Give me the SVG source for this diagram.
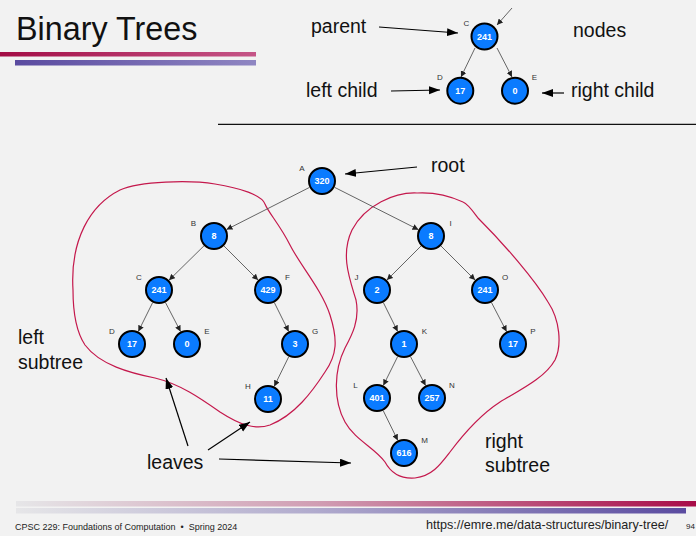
<svg xmlns="http://www.w3.org/2000/svg" width="696" height="536" viewBox="0 0 696 536">
  <defs>
    <linearGradient id="barRed" x1="0" y1="0" x2="1" y2="0">
      <stop offset="0" stop-color="#a30c45"/>
      <stop offset="1" stop-color="#c55587"/>
    </linearGradient>
    <linearGradient id="barPurple" x1="0" y1="0" x2="1" y2="0">
      <stop offset="0" stop-color="#5a4ba0"/>
      <stop offset="1" stop-color="#8f86c2"/>
    </linearGradient>
    <linearGradient id="footRed" x1="0" y1="0" x2="1" y2="0">
      <stop offset="0" stop-color="#e6e6e8"/>
      <stop offset="0.45" stop-color="#d09cb2"/>
      <stop offset="1" stop-color="#a80c48"/>
    </linearGradient>
    <linearGradient id="footPurple" x1="0" y1="0" x2="1" y2="0">
      <stop offset="0" stop-color="#e6e6e8"/>
      <stop offset="0.45" stop-color="#b0aacd"/>
      <stop offset="1" stop-color="#5a4ba0"/>
    </linearGradient>
    <marker id="edgeHead" markerUnits="userSpaceOnUse" markerWidth="7" markerHeight="6" refX="6" refY="3" orient="auto">
      <path d="M0,0 L6,3 L0,6 Z" fill="#222"/>
    </marker>
    <marker id="noteHead" markerUnits="userSpaceOnUse" markerWidth="12" markerHeight="9" refX="11" refY="4" orient="auto">
      <path d="M0,0 L11,4 L0,8 Z" fill="#000"/>
    </marker>
  </defs>
  <style>
    .bg { fill: #f2f2f2; }
    .node circle { fill: #0a7bff; stroke: #000; stroke-width: 2; }
    .node .val { font-family: "Liberation Sans", Arial, sans-serif; font-size: 9px; font-weight: bold; fill: #fff; text-anchor: middle; }
    .node .tag { font-family: "Liberation Sans", Arial, sans-serif; font-size: 8px; fill: #333; text-anchor: middle; }
    .edge { stroke: #555; stroke-width: 0.9; fill: none; marker-end: url(#edgeHead); }
    .note { stroke: #000; stroke-width: 1.2; fill: none; marker-end: url(#noteHead); }
    .blob { fill: none; stroke: #c4184c; stroke-width: 1.2; }
    .label { font-family: "Liberation Sans", Arial, sans-serif; font-size: 19.5px; fill: #111; }
    .title { font-family: "Liberation Sans", Arial, sans-serif; font-size: 32.3px; fill: #111; }
    .foot { font-family: "Liberation Sans", Arial, sans-serif; fill: #222; }
  </style>

  <rect class="bg" x="0" y="0" width="696" height="536"/>

  <!-- header -->
  <text class="title" x="16" y="39.5">Binary Trees</text>
  <rect x="0" y="52" width="256" height="4.5" fill="url(#barRed)"/>
  <rect x="15" y="60" width="241" height="5.5" fill="url(#barPurple)"/>
  <line x1="218" y1="124.3" x2="696" y2="124.3" stroke="#111" stroke-width="1.3"/>

  <!-- subtree outlines -->
  <g id="outlines">
    <path class="blob" d="M 73,290 C 70,240 90,205 120,190 C 140,181 190,180 215,184 C 240,188 262,195 265,204 C 268,212 280,225 290,245 C 300,265 322,290 330,315 C 338,340 337,355 325,372 C 312,392 295,415 270,425 C 255,430 240,425 220,412 C 200,398 180,384 155,378 C 130,373 100,365 85,345 C 75,330 73,310 73,290 Z"/>
    <path class="blob" d="M 417,193 C 395,192 365,205 352,230 C 340,255 350,280 356,300 C 360,320 352,335 345,348 C 334,370 333,400 345,422 C 355,440 375,448 385,462 C 392,475 402,479 415,478 C 432,476 440,465 450,452 C 465,432 480,415 500,402 C 520,390 545,378 555,360 C 562,345 560,320 548,302 C 535,280 505,245 478,218 C 472,210 468,204 463,202 C 450,196 435,192 417,193 Z"/>
  </g>

  <!-- connectors -->
  <g id="connectors">
    <line class="edge" x1="512" y1="8" x2="497" y2="25"/>
    <line class="edge" x1="475" y1="48" x2="461" y2="77"/>
    <line class="edge" x1="497" y1="48" x2="512" y2="77"/>

    <line class="edge" x1="309.5" y1="187.4" x2="226.5" y2="229.6"/>
    <line class="edge" x1="334.5" y1="187.3" x2="418.5" y2="229.7"/>
    <line class="edge" x1="204" y1="245.8" x2="169" y2="280.2"/>
    <line class="edge" x1="223.9" y1="245.9" x2="258.1" y2="280.1"/>
    <line class="edge" x1="421.1" y1="245.9" x2="386.9" y2="280.1"/>
    <line class="edge" x1="440.9" y1="245.9" x2="475.1" y2="280.1"/>
    <line class="edge" x1="152.7" y1="302.5" x2="138.3" y2="331.5"/>
    <line class="edge" x1="165.4" y1="302.4" x2="180.6" y2="331.6"/>
    <line class="edge" x1="274.3" y1="302.5" x2="288.7" y2="331.5"/>
    <line class="edge" x1="383.3" y1="302.5" x2="397.7" y2="331.5"/>
    <line class="edge" x1="491.4" y1="302.4" x2="506.6" y2="331.6"/>
    <line class="edge" x1="288.8" y1="356.6" x2="274.2" y2="386.4"/>
    <line class="edge" x1="397.7" y1="356.5" x2="383.3" y2="385.5"/>
    <line class="edge" x1="410.4" y1="356.4" x2="425.6" y2="385.6"/>
    <line class="edge" x1="383.2" y1="410.6" x2="397.8" y2="440.4"/>

    <line class="note" x1="379" y1="27" x2="458" y2="33"/>
    <line class="note" x1="391" y1="91" x2="440" y2="90"/>
    <line class="note" x1="564" y1="93" x2="542" y2="93"/>
    <line class="note" x1="417" y1="167" x2="345" y2="174"/>
    <line class="note" x1="188" y1="446" x2="166" y2="378"/>
    <line class="note" x1="208" y1="450" x2="250" y2="422"/>
    <line class="note" x1="219" y1="459" x2="351" y2="463"/>
  </g>

  <!-- example nodes -->
  <g id="ex-C" class="node"><circle cx="484.5" cy="36.5" r="13"/><text class="val" x="484.5" y="39.7">241</text><text class="tag" x="466.5" y="26">C</text></g>
  <g id="ex-D" class="node"><circle cx="460.3" cy="90.7" r="13"/><text class="val" x="460.3" y="93.9">17</text><text class="tag" x="440" y="80">D</text></g>
  <g id="ex-E" class="node"><circle cx="515" cy="90.7" r="13"/><text class="val" x="515" y="93.9">0</text><text class="tag" x="534.5" y="80">E</text></g>

  <!-- main tree nodes -->
  <g id="node-A" class="node"><circle cx="322" cy="181" r="13"/><text class="val" x="322" y="184.2">320</text><text class="tag" x="302" y="171">A</text></g>
  <g id="node-B" class="node"><circle cx="214" cy="236" r="13"/><text class="val" x="214" y="239.2">8</text><text class="tag" x="193.5" y="225.5">B</text></g>
  <g id="node-I" class="node"><circle cx="431" cy="236" r="13"/><text class="val" x="431" y="239.2">8</text><text class="tag" x="450.5" y="225.5">I</text></g>
  <g id="node-C" class="node"><circle cx="159" cy="290" r="13"/><text class="val" x="159" y="293.2">241</text><text class="tag" x="139" y="279.5">C</text></g>
  <g id="node-F" class="node"><circle cx="268" cy="290" r="13"/><text class="val" x="268" y="293.2">429</text><text class="tag" x="287.5" y="279.5">F</text></g>
  <g id="node-J" class="node"><circle cx="377" cy="290" r="13"/><text class="val" x="377" y="293.2">2</text><text class="tag" x="356.5" y="279.5">J</text></g>
  <g id="node-O" class="node"><circle cx="485" cy="290" r="13"/><text class="val" x="485" y="293.2">241</text><text class="tag" x="505" y="279.5">O</text></g>
  <g id="node-D" class="node"><circle cx="132" cy="344" r="13"/><text class="val" x="132" y="347.2">17</text><text class="tag" x="112" y="333.5">D</text></g>
  <g id="node-E" class="node"><circle cx="187" cy="344" r="13"/><text class="val" x="187" y="347.2">0</text><text class="tag" x="207" y="333.5">E</text></g>
  <g id="node-G" class="node"><circle cx="295" cy="344" r="13"/><text class="val" x="295" y="347.2">3</text><text class="tag" x="315" y="333.5">G</text></g>
  <g id="node-K" class="node"><circle cx="404" cy="344" r="13"/><text class="val" x="404" y="347.2">1</text><text class="tag" x="424.5" y="333.5">K</text></g>
  <g id="node-P" class="node"><circle cx="513" cy="344" r="13"/><text class="val" x="513" y="347.2">17</text><text class="tag" x="533" y="333.5">P</text></g>
  <g id="node-H" class="node"><circle cx="268" cy="399" r="13"/><text class="val" x="268" y="402.2">11</text><text class="tag" x="248" y="388.5">H</text></g>
  <g id="node-L" class="node"><circle cx="377" cy="398" r="13"/><text class="val" x="377" y="401.2">401</text><text class="tag" x="355.5" y="388">L</text></g>
  <g id="node-N" class="node"><circle cx="432" cy="398" r="13"/><text class="val" x="432" y="401.2">257</text><text class="tag" x="452" y="388">N</text></g>
  <g id="node-M" class="node"><circle cx="404" cy="453" r="13"/><text class="val" x="404" y="456.2">616</text><text class="tag" x="424.5" y="442.5">M</text></g>

  <!-- annotation labels -->
  <text class="label" x="311" y="33">parent</text>
  <text class="label" x="573" y="37">nodes</text>
  <text class="label" x="306" y="97">left child</text>
  <text class="label" x="571" y="97">right child</text>
  <text class="label" x="431" y="172">root</text>
  <text class="label" x="18" y="344">left</text>
  <text class="label" x="18" y="369">subtree</text>
  <text class="label" x="147" y="469">leaves</text>
  <text class="label" x="485" y="448">right</text>
  <text class="label" x="485" y="472">subtree</text>

  <!-- footer -->
  <rect x="16" y="501" width="680" height="5.5" fill="url(#footRed)"/>
  <rect x="16" y="508" width="670" height="5.5" fill="url(#footPurple)"/>
  <text class="foot" x="15" y="530" font-size="9" xml:space="preserve">CPSC 229: Foundations of Computation  •  Spring 2024</text>
  <text class="foot" x="426" y="529" font-size="12.6">https://emre.me/data-structures/binary-tree/</text>
  <text class="foot" x="686" y="529" font-size="8">94</text>
</svg>
